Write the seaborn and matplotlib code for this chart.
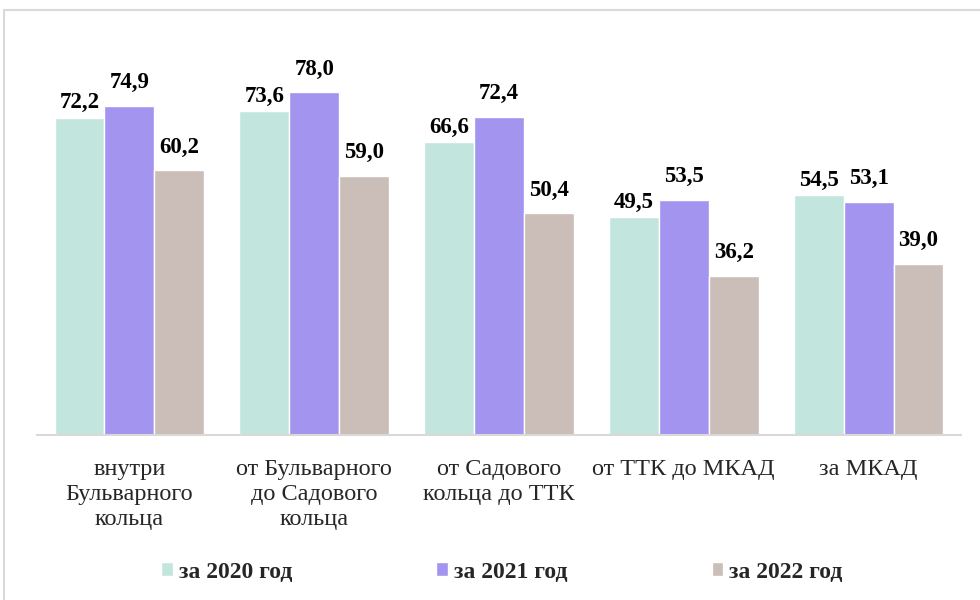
import matplotlib
matplotlib.use("Agg")
import matplotlib.pyplot as plt
import seaborn as sns
import pandas as pd
from matplotlib.patches import Rectangle

categories = ["внутри\nБульварного\nкольца", "от Бульварного\nдо Садового\nкольца",
              "от Садового\nкольца до ТТК", "от ТТК до МКАД", "за МКАД"]
series_names = ["за 2020 год", "за 2021 год", "за 2022 год"]
values_2020 = [72.2, 73.6, 66.6, 49.5, 54.5]
values_2021 = [74.9, 78.0, 72.4, 53.5, 53.1]
values_2022 = [60.2, 59.0, 50.4, 36.2, 39.0]

colors = ["#C2E5DD", "#A394F0", "#CBBDB8"]
label_pad = [3, 9, 9]

sns.set_style("white")
plt.rcParams["font.family"] = ["Liberation Serif", "DejaVu Serif"]

rows = []
for name, vals in zip(series_names, [values_2020, values_2021, values_2022]):
    for c, v in zip(categories, vals):
        rows.append({"cat": c, "year": name, "val": v})
df = pd.DataFrame(rows)

fig = plt.figure(figsize=(9.8, 6.0), dpi=100)
ax = fig.add_axes([37 / 980, (600 - 435) / 600, (961 - 37) / 980, 0.625])

sns.barplot(data=df, x="cat", y="val", hue="year", palette=colors, width=0.81,
            saturation=1, ax=ax, order=categories, hue_order=series_names)

ax.set_xlim(-0.5, 4.5)
ymax_px = 0.625 * 600
ax.set_ylim(0, ymax_px / 4.397)

for cont, pad in zip(ax.containers, label_pad):
    ax.bar_label(cont, labels=[f"{v:.1f}".replace(".", ",") for v in cont.datavalues],
                 padding=pad, fontsize=16.5, fontweight="bold", color="black")

for s in ["top", "right", "left"]:
    ax.spines[s].set_visible(False)
ax.spines["bottom"].set_color("#d9d9d9")
ax.spines["bottom"].set_linewidth(1.5)
ax.set_yticks([])
ax.set_xlabel("")
ax.set_ylabel("")
ax.tick_params(axis="x", length=0, pad=17, labelsize=17.5)
for t in ax.get_xticklabels():
    t.set_linespacing(1.27)

handles, labels = ax.get_legend_handles_labels()
ax.get_legend().remove()
fig.legend(handles, labels, loc="center", bbox_to_anchor=(502 / 980, (600 - 572) / 600),
           ncol=3, frameon=False, prop={"weight": "bold", "size": 17},
           handlelength=0.5, handleheight=0.5, handletextpad=0.25, columnspacing=6.1)

fig.patches.append(Rectangle((4 / 980, -0.05), 1.1, (590 / 600) + 0.05,
                             transform=fig.transFigure, fill=False,
                             edgecolor="#d9d9d9", linewidth=1.5))

fig.savefig("out.png", dpi=100)
